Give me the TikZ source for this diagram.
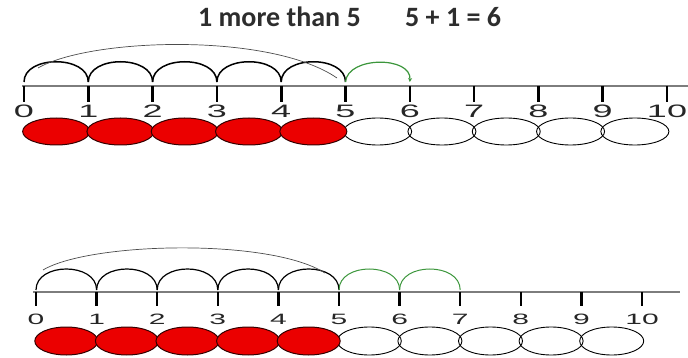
\documentclass[tikz,border=0pt]{standalone}
\usepackage{fontspec}
\setmainfont{Liberation Sans}
\newfontfamily\titlefont{Carlito}
\usetikzlibrary{arrows.meta}
\definecolor{axisgray}{RGB}{125,125,125}
\definecolor{hopgreen}{RGB}{60,150,60}
\definecolor{beadred}{RGB}{235,0,0}
\definecolor{titlegray}{RGB}{45,45,45}
\begin{document}
\begin{tikzpicture}[x=1pt,y=-1pt,
  axis/.style={draw=axisgray,line width=1.6pt},
  tickmark/.style={draw=black,line width=2.6pt},
  hop/.style={draw=black,line width=1.5pt},
  bighop/.style={draw=black!70,line width=0.7pt},
  greenhop/.style={draw=hopgreen,line width=1.2pt},
  numlabel/.style={inner sep=0pt,xscale=2,text=black!85},
  redbead/.style={fill=beadred,draw=black!80!red,line width=1pt},
  whitebead/.style={draw=black,line width=0.9pt},
  titletext/.style={inner sep=0pt,anchor=base west,text=titlegray,font=\titlefont\bfseries\fontsize{28}{28}\selectfont}]
\useasboundingbox (0,0) rectangle (688,358);

% titles
\node[titletext] (t1) at (198,27) {1 more than 5};
\node[titletext] (t2) at (405,27) {5 + 1 = 6};

% ---------- top number line ----------
\coordinate (TL) at (22,86);
\coordinate (TR) at (688,86);
\draw[axis] (TL) -- (TR);
\foreach \k in {0,...,10}{
  \pgfmathsetmacro{\xx}{24+64.3*\k}
  \coordinate (ta\k) at (\xx,86);
  \coordinate (tb\k) at (\xx,102);
  \coordinate (th\k) at (\xx,82);
  \node[numlabel,font=\fontsize{18}{18}\selectfont] (tl\k) at (\xx,111) {\k};
}
\foreach \k in {0,...,10}{\draw[tickmark] (ta\k) -- (tb\k);}
% beads
\foreach \k in {0,...,9}{
  \pgfmathsetmacro{\cx}{24+64.3*\k+32.15}
  \coordinate (tc\k) at (\cx,131.5);
}
\foreach \k in {5,...,9}{\draw[whitebead] (tc\k) ellipse [x radius=34, y radius=13.5];}
\foreach \k in {0,...,4}{\draw[redbead] (tc\k) ellipse [x radius=33.5, y radius=13.5];}
% hops
\foreach \k/\n in {0/1,1/2,2/3,3/4,4/5}{
  \draw[hop] (th\k) .. controls +(0,-27) and +(0,-27) .. (th\n);
}
\coordinate (tbs) at (38,68);
\coordinate (tbe) at (337,78);
\draw[bighop] (tbs) .. controls (90,38) and (270,32) .. (tbe);
\draw[greenhop,-{Stealth[length=4pt,width=4pt]}] (th5) .. controls +(2,-26) and +(2,-26) .. (th6);

% ---------- bottom number line ----------
\coordinate (BL) at (33,292);
\coordinate (BR) at (680,292);
\draw[axis,line width=1.3pt] (BL) -- (BR);
\foreach \k in {0,...,10}{
  \pgfmathsetmacro{\xx}{36+60.6*\k}
  \coordinate (ba\k) at (\xx,292);
  \coordinate (bb\k) at (\xx,306);
  \coordinate (bh\k) at (\xx,290);
  \node[numlabel,font=\fontsize{15}{15}\selectfont] (bl\k) at (\xx,319) {\k};
}
\foreach \k in {0,...,10}{\draw[tickmark,line width=2.3pt] (ba\k) -- (bb\k);}
\foreach \k in {0,...,9}{
  \pgfmathsetmacro{\cx}{36+60.6*\k+30.3}
  \coordinate (bc\k) at (\cx,341);
}
\foreach \k in {5,...,9}{\draw[whitebead] (bc\k) ellipse [x radius=32, y radius=14];}
\foreach \k in {0,...,4}{\draw[redbead] (bc\k) ellipse [x radius=31.5, y radius=14];}
\foreach \k/\n in {0/1,1/2,2/3,3/4,4/5}{
  \draw[hop,line width=1.2pt] (bh\k) .. controls +(0,-28) and +(0,-28) .. (bh\n);
}
\foreach \k/\n in {5/6,6/7}{
  \draw[greenhop,line width=1pt] (bh\k) .. controls +(0,-28) and +(0,-28) .. (bh\n);
}
\coordinate (bbs) at (43,270);
\coordinate (bbe) at (325,273);
\draw[bighop] (bbs) .. controls (90,242) and (270,238) .. (bbe);
\end{tikzpicture}
\end{document}
